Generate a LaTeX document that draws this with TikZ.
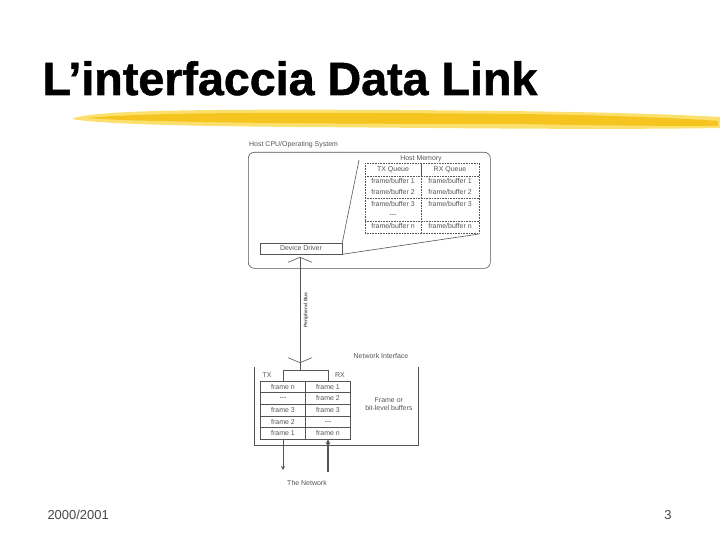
\documentclass[tikz,border=0pt]{standalone}
\usepackage{fontspec}
\setmainfont{Liberation Sans}
\newfontfamily\titlefont{Liberation Sans}[BoldFeatures={FakeBold=1.2}]
\usetikzlibrary{positioning,arrows.meta,calc}
\definecolor{brushyellow}{RGB}{246,196,30}
\definecolor{brushlight}{RGB}{252,224,110}
\definecolor{diagrey}{RGB}{85,85,85}
\definecolor{footgrey}{RGB}{70,70,70}
\newcommand{\celldots}{\textbf{\ldots}}

\tikzset{
  lbl/.style={font=\fontsize{7}{8}\selectfont, text=diagrey, inner sep=0pt},
  cell/.style={lbl, draw=diagrey, line width=0.6bp, minimum width=45.5bp, minimum height=11.6bp},
  line/.style={draw=diagrey, line width=0.6bp},
  busline/.style={line, {Straight Barb[length=5bp,width=24bp]}-{Straight Barb[length=5bp,width=24bp]}},
}

\begin{document}
\begin{tikzpicture}[x=1bp,y=-1bp]
    \useasboundingbox (0,0) rectangle (720,540);

    % title and brush stroke
    \node[anchor=base west, font=\fontsize{46.8}{50}\titlefont\bfseries] (title) at (39,95) {L’interfaccia Data Link};
    \fill[brushlight] (72,119) .. controls (90,110) and (200,109) .. (400,110) .. controls (550,111) and (650,113) .. (720,117)
        -- (720,128) .. controls (600,130) and (450,128) .. (300,127) .. controls (180,126) and (100,124) .. (72,119) -- cycle;
    \fill[brushyellow] (88,118) .. controls (150,112) and (300,112) .. (520,114) .. controls (600,115) and (680,118) .. (718,121)
        -- (718,126) .. controls (650,126) and (560,125) .. (520,124) .. controls (350,124) and (150,123) .. (88,118) -- cycle;

    % host side
    \node[lbl, anchor=west] (cpu) at (249,145) {Host CPU/Operating System};
    \node[line, rounded corners=6bp, minimum width=242bp, minimum height=116bp, anchor=north west] (host) at (248,152) {};
    \node[cell, minimum width=82bp, minimum height=11bp] (dd) at (301,248.5) {Device Driver};

    \node[lbl] (hm) at (421,158.5) {Host Memory};
    \node[lbl] (txq) at (393,170) {TX Queue};
    \node[lbl] (rxq) at (450,170) {RX Queue};
    \foreach \y/\a/\b [count=\i] in {181/frame\slash buffer 1/frame\slash buffer 1,
                                     192.5/frame\slash buffer 2/frame\slash buffer 2,
                                     204/frame\slash buffer 3/frame\slash buffer 3,
                                     215/\celldots/{},
                                     226.5/frame\slash buffer n/frame\slash buffer n} {
        \node[lbl] (hmtx\i) at (393,\y) {\a};
        \node[lbl] (hmrx\i) at (450,\y) {\b};
    }
    \draw[line, densely dotted] (365,163) rectangle (479,233);
    \draw[line, densely dotted] (365,176) -- (479,176) (365,198) -- (479,198) (365,221) -- (479,221) (421,176) -- (421,233);
    \draw[line, line width=0.9bp] (421,163) -- (421,176);

    \coordinate (hmnw) at (359,160);
    \coordinate (hmse) at (479,234);
    \draw[line] (dd.north east) -- (hmnw);
    \draw[line] (dd.south east) -- (hmse);

    % peripheral bus
    \coordinate (bustop) at (300,257);
    \coordinate (busbot) at (300,363);
    \draw[busline] (bustop) -- (busbot);
    \node[lbl, rotate=90, font=\fontsize{5}{6}\selectfont\bfseries] (bus) at (306,310) {Peripheral Bus};

    % network interface
    \node[lbl] (ni) at (381,356) {Network Interface};
    \draw[line] (254,367) -- (254,445) -- (418,445) -- (418,367);
    \node[lbl] (tx) at (267,375) {TX};
    \node[lbl] (rx) at (340,375) {RX};
    \foreach \a [count=\i from 0] in {frame n, \celldots, frame 3, frame 2, frame 1}
        \node[cell] (tx\i) at (283,{386.8+11.6*\i}) {\a};
    \foreach \b [count=\i from 0] in {frame 1, frame 2, frame 3, \celldots, frame n}
        \node[cell] (rx\i) at (328,{386.8+11.6*\i}) {\b};
    \draw[line] (busbot) -- (300,371);
    \draw[line] (tx0.north) -- ++(0,-10) -| (rx0.north);
    \node[lbl, align=center, right=14bp of rx1.south east, anchor=west] (buf) {Frame or\\bit-level buffers};

    % to the network
    \coordinate (netl) at (283,470);
    \coordinate (netr) at (328,472);
    \draw[line, -{Stealth[length=4bp,width=4bp]}] (tx4.south) -- (netl);
    \draw[line, line width=1.4bp, -{Stealth[length=5bp,width=5bp]}] (netr) -- (rx4.south);
    \node[lbl] (net) at (307,483) {The Network};

    % footer
    \node[anchor=west, text=footgrey, font=\fontsize{13}{15}\selectfont] (year) at (44,515) {2000/2001};
    \node[text=footgrey, font=\fontsize{13}{15}\selectfont] (page) at (668,515) {3};
\end{tikzpicture}
\end{document}
